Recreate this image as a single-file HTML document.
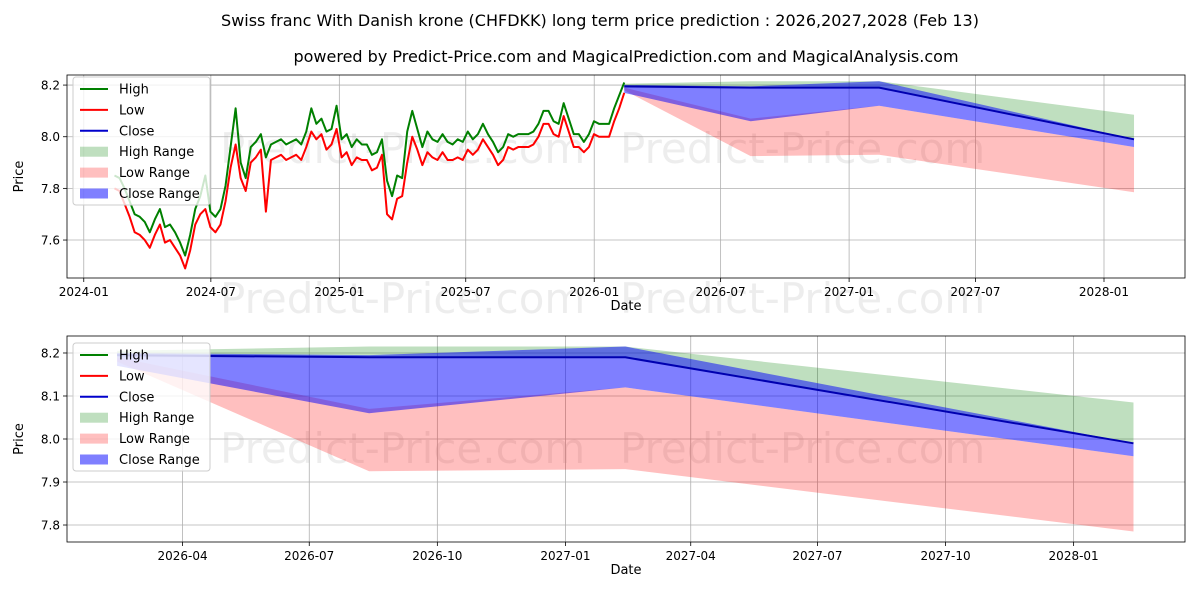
<!DOCTYPE html>
<html><head><meta charset="utf-8">
<style>
body{margin:0;background:#fff;}
svg{display:block;font-family:"DejaVu Sans","Liberation Sans",sans-serif;}
</style></head>
<body>
<svg id="chart" width="1200" height="600" viewBox="0 0 1200 600" xmlns="http://www.w3.org/2000/svg">
<rect width="1200" height="600" fill="#fff"/>
<text x="600" y="26" text-anchor="middle" font-size="16">Swiss franc With Danish krone (CHFDKK) long term price prediction : 2026,2027,2028 (Feb 13)</text>
<text x="626" y="62" text-anchor="middle" font-size="16">powered by Predict-Price.com and MagicalPrediction.com and MagicalAnalysis.com</text>
<g id="top"></g>
<g id="bot"></g>
</svg>
<script>
const histStart = "2024-02-14";
const histEnd = "2026-02-13";
const histHigh = [7.85,7.84,7.80,7.75,7.70,7.69,7.67,7.63,7.68,7.72,7.65,7.66,7.63,7.59,7.54,7.62,7.72,7.77,7.85,7.71,7.69,7.72,7.81,7.96,8.11,7.90,7.84,7.96,7.98,8.01,7.92,7.97,7.98,7.99,7.97,7.98,7.99,7.97,8.02,8.11,8.05,8.07,8.02,8.03,8.12,7.99,8.01,7.96,7.99,7.97,7.97,7.93,7.94,7.99,7.83,7.77,7.85,7.84,8.02,8.10,8.03,7.96,8.02,7.99,7.98,8.01,7.98,7.97,7.99,7.98,8.02,7.99,8.01,8.05,8.01,7.98,7.94,7.96,8.01,8.00,8.01,8.01,8.01,8.02,8.05,8.10,8.10,8.06,8.05,8.13,8.07,8.01,8.01,7.98,8.01,8.06,8.05,8.05,8.05,8.11,8.16,8.21];
const histLow = [7.80,7.79,7.74,7.69,7.63,7.62,7.60,7.57,7.62,7.66,7.59,7.60,7.57,7.54,7.49,7.56,7.66,7.70,7.72,7.65,7.63,7.66,7.75,7.88,7.97,7.84,7.79,7.90,7.92,7.95,7.71,7.91,7.92,7.93,7.91,7.92,7.93,7.91,7.96,8.02,7.99,8.01,7.95,7.97,8.03,7.92,7.94,7.89,7.92,7.91,7.91,7.87,7.88,7.93,7.70,7.68,7.76,7.77,7.90,8.00,7.95,7.89,7.94,7.92,7.91,7.94,7.91,7.91,7.92,7.91,7.95,7.93,7.95,7.99,7.96,7.93,7.89,7.91,7.96,7.95,7.96,7.96,7.96,7.97,8.00,8.05,8.05,8.01,8.00,8.08,8.02,7.96,7.96,7.94,7.96,8.01,8.00,8.00,8.00,8.06,8.11,8.17];
const predDates = ["2026-02-13","2026-08-13","2027-02-13","2028-02-13"];
const predClose = [8.195,8.19,8.19,7.99];
const highRangeLo = [8.19,8.19,8.19,7.99];
const highRangeHi = [8.205,8.215,8.215,8.085];
const lowRangeLo = [8.18,7.925,7.93,7.785];
const lowRangeHi = [8.19,8.07,8.12,7.96];
const closeRangeLo = [8.17,8.06,8.12,7.96];
const closeRangeHi = [8.20,8.195,8.215,7.99];
const topXTicks = ["2024-01","2024-07","2025-01","2025-07","2026-01","2026-07","2027-01","2027-07","2028-01"];
const topYTicks = [7.6,7.8,8.0,8.2];
const botXTicks = ["2026-04","2026-07","2026-10","2027-01","2027-04","2027-07","2027-10","2028-01"];
const botYTicks = [7.8,7.9,8.0,8.1,8.2];

const NS="http://www.w3.org/2000/svg";
function t(s){return Date.parse(s.length==7?s+"-01":s);}
function mk(parent,tag,attrs){const e=document.createElementNS(NS,tag);for(const k in attrs)e.setAttribute(k,attrs[k]);parent.appendChild(e);return e;}

const histT=[];const t0=t(histStart),t1=t(histEnd);
for(let i=0;i<histHigh.length;i++)histT.push(t0+(t1-t0)*i/(histHigh.length-1));
const predT=predDates.map(t);

function panel(g,box,xd,yd,xticks,yticks,yfmt,drawHist,legY,wmY){
  const [L,T,R,B]=box;
  const X=v=>L+(v-xd[0])/(xd[1]-xd[0])*(R-L);
  const Y=v=>B-(v-yd[0])/(yd[1]-yd[0])*(B-T);
  [[220,wmY],[620,wmY]].forEach(p=>{
    const w=mk(g,'text',{x:p[0],y:p[1],'font-size':42,fill:'#000','fill-opacity':0.07});
    
    
    w.textContent='Predict-Price.com';
  });
  xticks.forEach(s=>{const x=X(t(s));
    const l=mk(g,'line',{x1:x,x2:x,y1:T,y2:B,stroke:'#b0b0b0','stroke-width':0.8});
    
    
    mk(g,'line',{x1:x,x2:x,y1:B,y2:B+4,stroke:'#000','stroke-width':0.8});
    const tx=mk(g,'text',{x:x,y:B+18,'text-anchor':'middle','font-size':12});
    
    
    tx.textContent=s;});
  yticks.forEach(v=>{const y=Y(v);
    const l=mk(g,'line',{x1:L,x2:R,y1:y,y2:y,stroke:'#b0b0b0','stroke-width':0.8});
    
    
    mk(g,'line',{x1:L-4,x2:L,y1:y,y2:y,stroke:'#000','stroke-width':0.8});
    const tx=mk(g,'text',{x:L-7,y:y+4.5,'text-anchor':'end','font-size':12});
    
    
    tx.textContent=v.toFixed(yfmt);});
  const cp='clip'+T;
  const cl=mk(g,'clipPath',{id:cp});mk(cl,'rect',{x:L,y:T,width:R-L,height:B-T});
  const pg=mk(g,'g',{'clip-path':'url(#'+cp+')'});
  function band(lo,hi,fill,op,name){
    let d='';predT.forEach((tt,i)=>d+=(i?'L':'M')+X(tt)+','+Y(hi[i]));
    for(let i=predT.length-1;i>=0;i--)d+='L'+X(predT[i])+','+Y(lo[i]);
    const p=mk(pg,'path',{d:d+'Z',fill:fill,'fill-opacity':op});
    
    
  }
  band(highRangeLo,highRangeHi,'#008000',0.25,'high-range-band');
  band(lowRangeLo,lowRangeHi,'#ff0000',0.25,'low-range-band');
  band(closeRangeLo,closeRangeHi,'#0000ff',0.5,'close-range-band');
  function line(ts,vs,col,name){
    const p=mk(pg,'polyline',{points:ts.map((tt,i)=>X(tt)+','+Y(vs[i])).join(' '),fill:'none',stroke:col,'stroke-width':2,'stroke-linejoin':'round'});
    
    
  }
  if(drawHist){line(histT,histHigh,'#008000','high-line');line(histT,histLow,'#ff0000','low-line');}
  line(predT,predClose,'#0000b0','close-line');
  const fr=mk(g,'rect',{x:L,y:T,width:R-L,height:B-T,fill:'none',stroke:'#000','stroke-width':0.8});
  
  
  const xl=mk(g,'text',{x:(L+R)/2,y:B+32,'text-anchor':'middle','font-size':13});
  
  
  xl.textContent='Date';
  const yl=mk(g,'text',{x:0,y:0,'text-anchor':'middle','font-size':13,transform:`translate(${L-44},${(T+B)/2}) rotate(-90)`});
  
  
  yl.textContent='Price';
  const lg=mk(g,'g',{});
  
  
  mk(lg,'rect',{x:L+6,y:legY,width:137,height:128,rx:3,fill:'#fff','fill-opacity':0.8,stroke:'#ccc'});
  const items=[['High','#008000','l'],['Low','#ff0000','l'],['Close','#0000cc','l'],['High Range','rgba(0,128,0,0.25)','p'],['Low Range','rgba(255,0,0,0.25)','p'],['Close Range','rgba(0,0,255,0.5)','p']];
  items.forEach((it,i)=>{const y=legY+12+i*20.9;
    if(it[2]=='l')mk(lg,'line',{x1:L+13,x2:L+41,y1:y,y2:y,stroke:it[1],'stroke-width':2});
    else mk(lg,'rect',{x:L+13,y:y-5,width:28,height:10,fill:it[1]});
    const tx=mk(lg,'text',{x:L+52,y:y+4.5,'font-size':13});
    
    
    tx.textContent=it[0];});
}
panel(document.getElementById('top'),[67,75,1185,278],[t("2023-12-08"),t("2028-04-26")],[7.453,8.239],topXTicks,topYTicks,1,true,77,163);
panel(document.getElementById('bot'),[67,336,1185,542],[t("2026-01-08"),t("2028-03-21")],[7.7605,8.2395],botXTicks,botYTicks,1,false,343,463);
const mw=document.getElementById('top');
[[220,313],[620,313]].forEach(p=>{
  const w=mk(mw,'text',{x:p[0],y:p[1],'font-size':42,fill:'#000','fill-opacity':0.07});
  
  
  w.textContent='Predict-Price.com';
});
</script>
</body></html>
